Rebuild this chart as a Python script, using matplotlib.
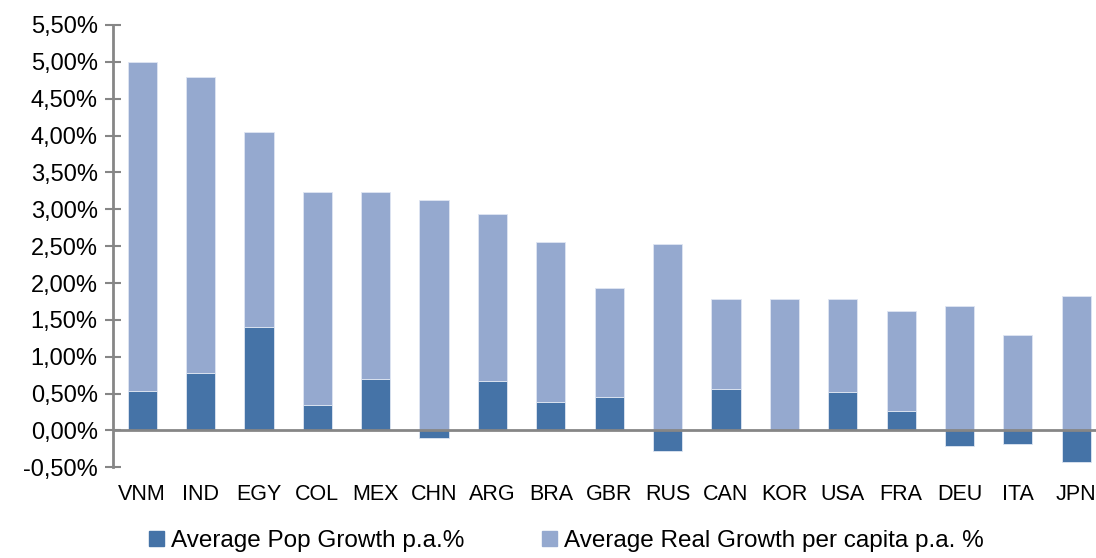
import numpy as np
import matplotlib.pyplot as plt
from matplotlib.patches import Patch
from matplotlib.ticker import FuncFormatter

plt.rcParams['font.family'] = ['Liberation Sans', 'DejaVu Sans']

# --- data: average annual growth, percent ---
countries = ["VNM", "IND", "EGY", "COL", "MEX", "CHN", "ARG", "BRA", "GBR",
             "RUS", "CAN", "KOR", "USA", "FRA", "DEU", "ITA", "JPN"]
pop_growth = [0.53, 0.78, 1.40, 0.35, 0.70, -0.10, 0.67, 0.38, 0.45,
              -0.28, 0.56, 0.00, 0.52, 0.27, -0.21, -0.18, -0.43]
real_growth_pc = [4.47, 4.01, 2.65, 2.89, 2.54, 3.13, 2.26, 2.18, 1.48,
                  2.53, 1.23, 1.79, 1.27, 1.35, 1.69, 1.30, 1.83]

dark = "#4573A7"
light = "#95A9CF"
axis_grey = "#868686"

fig = plt.figure(figsize=(10.96, 5.58), dpi=100)
ax = fig.add_axes([0.1031, 0.1625, 0.897, 0.7927])

x = np.arange(len(countries))
pop = np.array(pop_growth)
real = np.array(real_growth_pc)

# Excel style stacking: negatives hang below zero, positives stack upward
ax.bar(x, pop, width=0.5, color=dark, edgecolor="#dfe6f2", linewidth=0.6, zorder=2)
ax.bar(x, real, width=0.5, bottom=np.maximum(pop, 0), color=light,
       edgecolor="#dfe6f2", linewidth=0.6, zorder=2)

ax.axhline(0, color=axis_grey, linewidth=2, zorder=3)

ax.set_ylim(-0.5, 5.5)
ax.set_xlim(-0.5, 16.34)
ax.set_yticks(np.arange(-0.5, 5.51, 0.5))
ax.yaxis.set_major_formatter(FuncFormatter(lambda v, _: f"{v:.2f}%".replace(".", ",")))
ax.set_xticks(x)
ax.set_xticklabels(countries)

for side in ["top", "right", "bottom"]:
    ax.spines[side].set_visible(False)
ax.spines["left"].set_color(axis_grey)
ax.spines["left"].set_linewidth(2)

ax.tick_params(axis="y", direction="inout", length=12, width=1.5, color=axis_grey,
               labelsize=17, pad=5)
ax.tick_params(axis="x", length=0, labelsize=15.5, pad=12)

handles = [Patch(color=dark, label="Average Pop Growth p.a.%"),
           Patch(color=light, label="Average Real Growth per capita p.a. %")]
fig.legend(handles=handles, loc="center left", bbox_to_anchor=(0.116, 0.03),
           ncol=2, frameon=False, fontsize=17.5, handlelength=0.6, handleheight=0.6,
           handletextpad=0.3, columnspacing=3.2)

fig.savefig("out.png", dpi=100)
